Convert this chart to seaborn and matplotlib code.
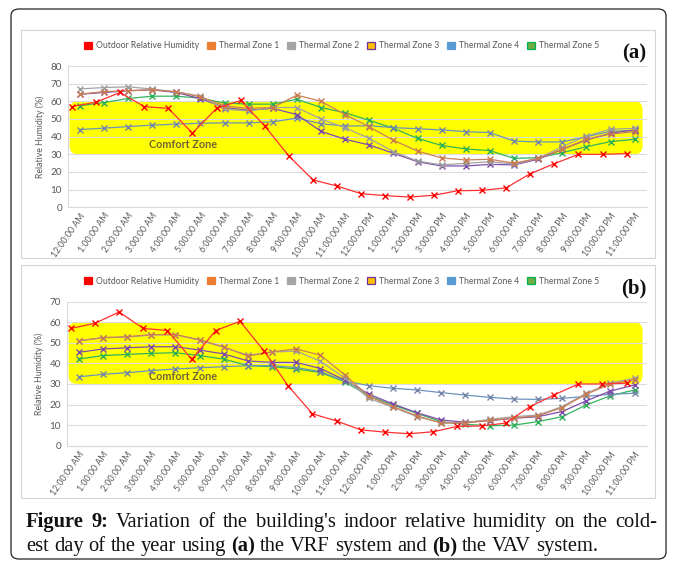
import numpy as np
import pandas as pd
import matplotlib
matplotlib.use("Agg")
import matplotlib.pyplot as plt
from matplotlib.patches import FancyBboxPatch, Rectangle, Patch
import seaborn as sns

# ---------------- data ----------------
hours = [f"{h}:00:00 AM" for h in [12] + list(range(1, 12))] + \
        [f"{h}:00:00 PM" for h in [12] + list(range(1, 12))]

outdoor = [57, 59.5, 65, 57, 56, 42, 56, 60.5, 46, 29, 15.5, 12,
           7.7, 6.6, 5.8, 6.8, 9.4, 9.6, 11, 19, 24.7, 30, 30, 30.4]

# (a) VRF system
vrf_zone1 = [64, 65.5, 66, 66.5, 65.5, 62.5, 57.5, 56, 56.5, 63.5, 60, 52.5,
             45.5, 38, 31.8, 28, 26.8, 27.2, 25, 27.7, 32.8, 38.5, 41.5, 42.8]
vrf_zone2 = [67, 67.8, 68.2, 67, 65.3, 63, 55.5, 54.6, 56.5, 56.5, 50, 45,
             39, 31.5, 26.2, 24, 24.9, 25.8, 24.5, 27.7, 34.3, 40.4, 44.2, 44.7]
vrf_zone3 = [64, 65, 66, 66.5, 65, 61.5, 56.5, 55, 56, 52.5, 43, 38.5,
             35.3, 30.6, 25.8, 23.4, 23.4, 24.3, 24, 27.2, 32.8, 38.1, 41.9, 43.8]
vrf_zone4 = [44, 44.8, 45.7, 46.5, 47.1, 47.6, 47.8, 47.8, 48.4, 50.5, 47.3, 46,
             46.2, 45.1, 44.5, 43.8, 42.8, 42.3, 37.5, 37, 37, 40, 43, 43.5]
vrf_zone5 = [57.5, 59.3, 61.6, 62.9, 62.9, 61.8, 59, 58.4, 58.4, 61.2, 56.5, 53.5,
             49.2, 44.8, 39, 35, 33, 32.1, 27.7, 28.1, 30.9, 34.3, 37.2, 38.5]

# (b) VAV system
vav_zone1 = [51, 52.5, 53, 54, 54, 51.5, 48, 43.5, 45.7, 47, 44, 34.5,
             24, 19, 14.5, 11, 11, 12.3, 13.5, 14.5, 18.5, 25, 30, 32]
vav_zone2 = [51, 52.5, 52.8, 53.8, 54, 51.3, 47.8, 44, 45.5, 46, 41, 33,
             23, 18.7, 14.1, 11.2, 11.2, 12.8, 14.1, 14.9, 19, 25.5, 30.5, 32.8]
vav_zone3 = [45.4, 47, 47.6, 48.1, 48.1, 46.5, 44.6, 41.2, 40.5, 40.5, 37.5, 32,
             25.1, 20.3, 16, 12.5, 11.4, 12.2, 13.3, 14.1, 16.6, 21.8, 26.6, 29.5]
vav_zone4 = [33.5, 34.7, 35.5, 36.5, 37.3, 37.9, 38.4, 38.9, 38.9, 38, 36, 31.5,
             29.2, 27.9, 27.1, 25.8, 24.6, 23.5, 22.7, 22.5, 23, 24, 25, 25.5]
vav_zone5 = [42.1, 43.8, 44.4, 44.9, 45.2, 43.8, 42.1, 38.9, 38.4, 37.3, 35.6, 31.1,
             24.2, 19.8, 15.7, 11.7, 10.4, 9.7, 10, 11.7, 14.1, 19.8, 24.3, 27.1]

series_names = ["Outdoor Relative Humidity", "Thermal Zone 1", "Thermal Zone 2",
                "Thermal Zone 3", "Thermal Zone 4", "Thermal Zone 5"]
COMFORT_LOW, COMFORT_HIGH = 30, 60

# ---------------- styles ----------------
line_colors = ["#FF3030", "#CD8057", "#A3A3A3", "#7E4DAE", "#6A93BD", "#33B45A"]
marker_colors = ["#FF0000", "#C97A4E", "#9C9C9C", "#7A48AA", "#7384A6", "#2AAE55"]
legend_face = ["#FF0000", "#ED7D31", "#A5A5A5", "#FFC000", "#5B9BD5", "#70AD47"]
legend_edge = ["#FF0000", "#ED7D31", "#A5A5A5", "#7030A0", "#5B9BD5", "#00B050"]
red_shift = -0.33  # outdoor series sits slightly left of the category centres in the source

sns.set_theme(style="white")
plt.rcParams["font.family"] = ["Lato", "DejaVu Sans"]

W, H = 673, 564
fig = plt.figure(figsize=(W / 100, H / 100), dpi=100)


def fbox(x0, y0, x1, y1):
    """pixel box (from top-left) -> figure fraction [l, b, w, h]"""
    return [x0 / W, 1 - y1 / H, (x1 - x0) / W, (y1 - y0) / H]


# outer frame and panel frames
fig.patches.append(FancyBboxPatch((11 / W, 1 - 559 / H), 655 / W, 550 / H,
                                  boxstyle="round,pad=0,rounding_size=0.012",
                                  transform=fig.transFigure, fill=False,
                                  edgecolor="#222222", linewidth=0.9))
for (x0, y0, x1, y1) in [(21, 30, 655, 258), (21, 265, 655, 498)]:
    fig.patches.append(Rectangle((x0 / W, 1 - y1 / H), (x1 - x0) / W, (y1 - y0) / H,
                                 transform=fig.transFigure, fill=False,
                                 edgecolor="#D4D4D4", linewidth=0.8))


def draw_panel(rect, data, ymax, label, legend_y, text_y):
    ax = fig.add_axes(fbox(*rect))
    x = np.arange(len(hours))
    for i, (name, vals) in enumerate(zip(series_names, data)):
        xs = x + (red_shift if i == 0 else 0)
        sns.lineplot(x=xs, y=vals, ax=ax, color=line_colors[i], linewidth=0.9,
                     marker="x", markersize=4.3, markeredgewidth=1.0,
                     markeredgecolor=marker_colors[i], zorder=3 + (5 - i) * 0.01)
    ax.set_xlim(-0.5, len(hours) - 0.5)
    ax.set_ylim(0, ymax)
    ax.set_yticks(np.arange(0, ymax + 1, 10))
    ax.set_xticks(x)
    ax.set_xticklabels(hours, rotation=55, ha="right", rotation_mode="anchor",
                       fontsize=6.3, color="#595959")
    ax.tick_params(axis="y", labelsize=7.2, labelcolor="#595959", length=0, pad=4)
    ax.tick_params(axis="x", length=0, pad=3)
    ax.set_ylabel("Relative Humidity (%)", fontsize=6.3, color="#595959", labelpad=4)
    ax.grid(axis="y", color="#DCDCDC", linewidth=0.8)
    ax.set_axisbelow(True)
    for s in ["top", "right"]:
        ax.spines[s].set_visible(False)
    for s in ["left", "bottom"]:
        ax.spines[s].set_color("#D9D9D9")
        ax.spines[s].set_linewidth(0.8)

    # comfort-zone band with rounded corners
    fig.canvas.draw()
    bb = ax.get_window_extent()
    px_x = bb.width / (len(hours))
    px_y = bb.height / ymax
    r = 0.34
    aspect = px_x / px_y
    band = FancyBboxPatch((-0.42, COMFORT_LOW), 23.75, COMFORT_HIGH - COMFORT_LOW,
                          boxstyle=f"round,pad=0,rounding_size={r}",
                          mutation_aspect=aspect, facecolor="#FFFF00",
                          edgecolor="none", zorder=0.2)
    ax.add_patch(band)
    ax.text(4.3, text_y, "Comfort Zone", fontsize=7.8, fontweight="bold",
            color="#736437", ha="center", va="center", zorder=2)

    handles = [Patch(facecolor=legend_face[i], edgecolor=legend_edge[i], linewidth=0.9)
               for i in range(len(series_names))]
    fig.legend(handles, series_names, loc="center", ncol=6,
               bbox_to_anchor=(342 / W, 1 - legend_y / H), frameon=False,
               fontsize=6.2, handlelength=0.9, handleheight=0.9, handletextpad=0.5,
               columnspacing=0.9, labelcolor="#595959")
    fig.text(646 / W, 1 - (legend_y + 7) / H, label, fontsize=15, fontweight="bold",
             family="Liberation Serif", ha="right", va="center", color="#111111")
    return ax


draw_panel((67.7, 66, 646.7, 207.3),
           [outdoor, vrf_zone1, vrf_zone2, vrf_zone3, vrf_zone4, vrf_zone5],
           80, "(a)", 46, 35.5)
draw_panel((66.7, 301.7, 646.7, 445.7),
           [outdoor, vav_zone1, vav_zone2, vav_zone3, vav_zone4, vav_zone5],
           70, "(b)", 281, 33.5)

# ---------------- caption ----------------
fig.canvas.draw()
renderer = fig.canvas.get_renderer()
CAP_FS = 14.8


def word_width(word, weight):
    t = fig.text(0, 0, word, fontsize=CAP_FS, family="Liberation Serif", fontweight=weight)
    w = t.get_window_extent(renderer).width
    t.remove()
    return w


def draw_line(runs, y_px, x0_px, x1_px=None):
    words = []
    for txt, weight in runs:
        for w in txt.split(" "):
            if w:
                words.append((w, weight))
    widths = [word_width(w, wt) for w, wt in words]
    space = word_width("a a", "normal") - 2 * word_width("a", "normal")
    if x1_px is not None and len(words) > 1:
        space = (x1_px - x0_px - sum(widths)) / (len(words) - 1)
    x = x0_px
    for (w, wt), wd in zip(words, widths):
        fig.text(x / W, 1 - y_px / H, w, fontsize=CAP_FS, family="Liberation Serif",
                 fontweight=wt, va="baseline", ha="left", color="#111111")
        x += wd + space


draw_line([("Figure 9:", "bold"),
           ("Variation of the building's indoor relative humidity on the cold-", "normal")],
          527, 26, 657)
draw_line([("est day of the year using", "normal"), ("(a)", "bold"),
           ("the VRF system and", "normal"), ("(b)", "bold"),
           ("the VAV system.", "normal")], 551, 26)

fig.savefig("out.png", dpi=100)
